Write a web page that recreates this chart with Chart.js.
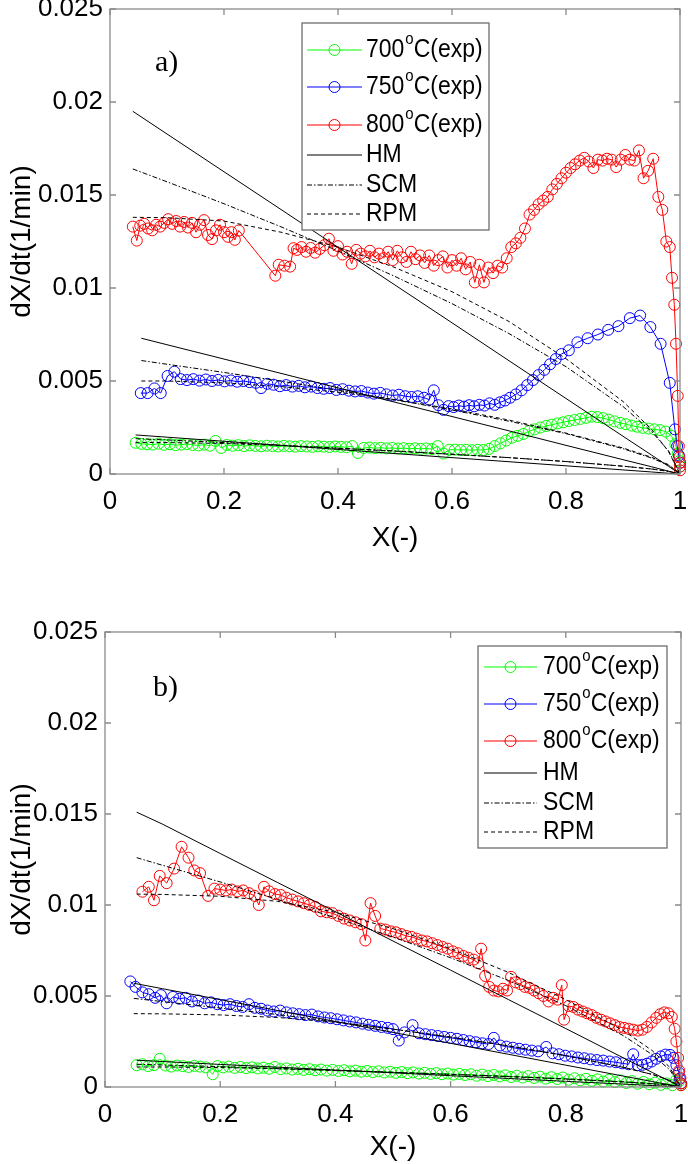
<!DOCTYPE html>
<html>
<head>
<meta charset="utf-8">
<script src="https://cdn.jsdelivr.net/npm/chart.js@4.4.0/dist/chart.umd.min.js"></script>
<style>
  body { margin: 0; background: #fff; }
  canvas { position: absolute; left: 0; }
  #chartA { top: 0; }
  #chartB { top: 560px; }
</style>
</head>
<body>
<canvas id="chartA" width="688" height="560"></canvas>
<canvas id="chartB" width="688" height="604"></canvas>
<script>
// ---- labels ----
var tempNames = ['700', '750', '800'];
var modelNames = ['HM', 'SCM', 'RPM'];
var xTicks = [0, 0.2, 0.4, 0.6, 0.8, 1];
var yTicks = [0, 0.005, 0.01, 0.015, 0.02, 0.025];

// ---- panel a) experimental [X, dX/dt] ----
var a700exp = [[0.045,0.00168],[0.055,0.00162],[0.065,0.00160],[0.075,0.00158],[0.085,0.00163],[0.095,0.00157],[0.105,0.00160],[0.115,0.00155],[0.125,0.00158],[0.135,0.00161],[0.145,0.00156],[0.155,0.00154],[0.165,0.00158],[0.175,0.00152],[0.185,0.00178],[0.195,0.00140],[0.205,0.00156],[0.215,0.00152],[0.225,0.00155],[0.235,0.00150],[0.245,0.00154],[0.255,0.00151],[0.265,0.00149],[0.275,0.00152],[0.285,0.00150],[0.295,0.00148],[0.305,0.00151],[0.315,0.00149],[0.325,0.00147],[0.335,0.00150],[0.345,0.00148],[0.355,0.00146],[0.365,0.00149],[0.375,0.00147],[0.385,0.00145],[0.395,0.00148],[0.405,0.00146],[0.415,0.00144],[0.425,0.00150],[0.435,0.00113],[0.445,0.00140],[0.455,0.00142],[0.465,0.00139],[0.475,0.00141],[0.485,0.00138],[0.495,0.00140],[0.505,0.00137],[0.515,0.00139],[0.525,0.00136],[0.535,0.00138],[0.545,0.00135],[0.555,0.00137],[0.565,0.00134],[0.575,0.00150],[0.585,0.00110],[0.595,0.00130],[0.605,0.00131],[0.615,0.00129],[0.625,0.00130],[0.635,0.00128],[0.645,0.00130],[0.655,0.00129],[0.665,0.00135],[0.675,0.00150],[0.685,0.00165],[0.695,0.00180],[0.705,0.00195],[0.715,0.00205],[0.725,0.00215],[0.735,0.00230],[0.745,0.00240],[0.755,0.00250],[0.765,0.00258],[0.775,0.00265],[0.785,0.00272],[0.795,0.00278],[0.805,0.00285],[0.815,0.00290],[0.825,0.00296],[0.835,0.00302],[0.845,0.00308],[0.855,0.00306],[0.865,0.00300],[0.875,0.00292],[0.885,0.00283],[0.895,0.00275],[0.905,0.00268],[0.915,0.00260],[0.925,0.00254],[0.935,0.00248],[0.945,0.00244],[0.955,0.00240],[0.965,0.00236],[0.975,0.00228],[0.985,0.00205],[0.992,0.00160],[0.996,0.00110],[0.999,0.00070],[1.0,0.00040]];

var a750exp = [[0.054,0.00435],[0.066,0.00435],[0.078,0.00460],[0.089,0.00435],[0.101,0.00527],[0.113,0.00550],[0.124,0.00510],[0.135,0.00505],[0.146,0.00510],[0.157,0.00502],[0.168,0.00508],[0.179,0.00500],[0.190,0.00506],[0.201,0.00498],[0.212,0.00503],[0.223,0.00496],[0.234,0.00500],[0.245,0.00494],[0.256,0.00490],[0.265,0.00462],[0.276,0.00485],[0.287,0.00480],[0.298,0.00472],[0.309,0.00478],[0.320,0.00470],[0.331,0.00474],[0.342,0.00466],[0.353,0.00470],[0.364,0.00462],[0.375,0.00458],[0.386,0.00462],[0.397,0.00452],[0.408,0.00456],[0.419,0.00448],[0.430,0.00444],[0.441,0.00446],[0.452,0.00438],[0.463,0.00432],[0.474,0.00436],[0.485,0.00428],[0.496,0.00422],[0.507,0.00426],[0.518,0.00418],[0.529,0.00414],[0.540,0.00418],[0.551,0.00410],[0.560,0.00400],[0.568,0.00450],[0.576,0.00370],[0.585,0.00345],[0.594,0.00365],[0.603,0.00360],[0.612,0.00368],[0.621,0.00362],[0.630,0.00370],[0.639,0.00364],[0.648,0.00372],[0.657,0.00368],[0.666,0.00380],[0.675,0.00372],[0.684,0.00385],[0.693,0.00395],[0.702,0.00410],[0.712,0.00428],[0.722,0.00450],[0.732,0.00478],[0.742,0.00505],[0.752,0.00532],[0.762,0.00560],[0.772,0.00590],[0.782,0.00618],[0.792,0.00645],[0.805,0.00665],[0.820,0.00708],[0.838,0.00730],[0.856,0.00750],[0.874,0.00775],[0.892,0.00795],[0.912,0.00838],[0.930,0.00852],[0.948,0.00790],[0.966,0.00700],[0.982,0.00490],[0.991,0.00240],[0.995,0.00150],[0.998,0.00100],[1.0,0.00060]];

var a800exp = [[0.040,0.01330],[0.047,0.01255],[0.053,0.01335],[0.060,0.01345],[0.067,0.01320],[0.074,0.01310],[0.081,0.01340],[0.088,0.01330],[0.095,0.01350],[0.102,0.01370],[0.109,0.01345],[0.116,0.01360],[0.123,0.01330],[0.130,0.01355],[0.137,0.01325],[0.144,0.01350],[0.151,0.01300],[0.158,0.01340],[0.165,0.01365],[0.172,0.01285],[0.179,0.01263],[0.186,0.01310],[0.193,0.01340],[0.200,0.01300],[0.207,0.01275],[0.213,0.01300],[0.219,0.01259],[0.226,0.01309],[0.290,0.01066],[0.296,0.01125],[0.306,0.01120],[0.316,0.01115],[0.322,0.01214],[0.328,0.01205],[0.336,0.01220],[0.344,0.01195],[0.352,0.01215],[0.360,0.01190],[0.368,0.01210],[0.376,0.01230],[0.384,0.01265],[0.392,0.01200],[0.400,0.01225],[0.408,0.01180],[0.416,0.01195],[0.424,0.01130],[0.432,0.01205],[0.440,0.01185],[0.448,0.01170],[0.456,0.01200],[0.464,0.01165],[0.472,0.01185],[0.480,0.01160],[0.488,0.01195],[0.496,0.01150],[0.504,0.01200],[0.512,0.01165],[0.520,0.01140],[0.528,0.01195],[0.536,0.01155],[0.544,0.01175],[0.552,0.01135],[0.560,0.01175],[0.568,0.01120],[0.576,0.01150],[0.584,0.01170],[0.592,0.01110],[0.600,0.01150],[0.608,0.01120],[0.616,0.01160],[0.624,0.01100],[0.632,0.01140],[0.640,0.01030],[0.648,0.01125],[0.656,0.01030],[0.664,0.01110],[0.672,0.01080],[0.680,0.01120],[0.688,0.01110],[0.696,0.01160],[0.704,0.01220],[0.712,0.01240],[0.720,0.01270],[0.728,0.01320],[0.736,0.01395],[0.744,0.01420],[0.752,0.01450],[0.760,0.01470],[0.768,0.01490],[0.776,0.01530],[0.784,0.01560],[0.792,0.01590],[0.800,0.01620],[0.808,0.01645],[0.816,0.01665],[0.824,0.01685],[0.832,0.01700],[0.840,0.01680],[0.848,0.01645],[0.856,0.01690],[0.864,0.01685],[0.872,0.01695],[0.880,0.01690],[0.888,0.01650],[0.896,0.01690],[0.904,0.01715],[0.912,0.01690],[0.920,0.01685],[0.928,0.01740],[0.936,0.01590],[0.944,0.01630],[0.953,0.01695],[0.962,0.01490],[0.969,0.01420],[0.976,0.01250],[0.982,0.01220],[0.986,0.01055],[0.990,0.00910],[0.993,0.00700],[0.996,0.00420],[0.998,0.00150],[0.999,0.00090],[1.0,0.00060],[1.0,0.00040],[1.0,0.00020]];

// ---- panel a) model curves ----
var aModX700 = [0.045, 0.1, 0.2, 0.3, 0.4, 0.5, 0.6, 0.7, 0.8, 0.9, 0.95, 0.98, 1];
var aHM700  = [0.0021, 0.00198, 0.00176, 0.00154, 0.00132, 0.0011, 0.00088, 0.00066, 0.00044, 0.00022, 0.00011, 0.00004, 0];
var aSCM700 = [0.0019, 0.00183, 0.00169, 0.00155, 0.00139, 0.00124, 0.00106, 0.00088, 0.00067, 0.00042, 0.00027, 0.00014, 0];
var aRPM700 = [0.0017, 0.00169, 0.00164, 0.00153, 0.00138, 0.00123, 0.00106, 0.00088, 0.00067, 0.00042, 0.00027, 0.00014, 0];

var aModX750 = [0.055, 0.1, 0.2, 0.3, 0.4, 0.5, 0.6, 0.7, 0.8, 0.9, 0.95, 0.98, 1];
var aHM750  = [0.0073, 0.00695, 0.00618, 0.00541, 0.00463, 0.00386, 0.00309, 0.00232, 0.00154, 0.00077, 0.00039, 0.00015, 0];
var aSCM750 = [0.0061, 0.0059, 0.00546, 0.00499, 0.0045, 0.00399, 0.00344, 0.00284, 0.00217, 0.00136, 0.00086, 0.00047, 0];
var aRPM750 = [0.0050, 0.0050, 0.0049, 0.0047, 0.0044, 0.0040, 0.0035, 0.0029, 0.0022, 0.0014, 0.0009, 0.0005, 0];

var aModX800 = [0.04, 0.1, 0.2, 0.3, 0.4, 0.5, 0.6, 0.7, 0.8, 0.9, 0.95, 0.98, 1];
var aHM800  = [0.0195, 0.01828, 0.01625, 0.01422, 0.01219, 0.01016, 0.00813, 0.00609, 0.00406, 0.00203, 0.00102, 0.00041, 0];
var aSCM800 = [0.0164, 0.01571, 0.01453, 0.01329, 0.01199, 0.01062, 0.00916, 0.00755, 0.00577, 0.00363, 0.00229, 0.00124, 0];
var aRPM800 = [0.0138, 0.01378, 0.0136, 0.0130, 0.0122, 0.0111, 0.0098, 0.0082, 0.0062, 0.0039, 0.0024, 0.0012, 0];

// ---- panel b) experimental [X, dX/dt] ----
var b700exp = [[0.055,0.00120],[0.065,0.00125],[0.075,0.00115],[0.085,0.00120],[0.095,0.00155],[0.105,0.00118],[0.115,0.00112],[0.125,0.00118],[0.135,0.00115],[0.145,0.00110],[0.155,0.00116],[0.165,0.00112],[0.175,0.00108],[0.187,0.00070],[0.195,0.00115],[0.205,0.00108],[0.215,0.00112],[0.225,0.00105],[0.235,0.00110],[0.245,0.00104],[0.255,0.00108],[0.265,0.00102],[0.275,0.00106],[0.285,0.00100],[0.295,0.00110],[0.305,0.00098],[0.315,0.00102],[0.325,0.00096],[0.335,0.00100],[0.345,0.00094],[0.355,0.00098],[0.365,0.00092],[0.375,0.00096],[0.385,0.00090],[0.395,0.00094],[0.405,0.00088],[0.415,0.00092],[0.425,0.00086],[0.435,0.00090],[0.445,0.00084],[0.455,0.00088],[0.465,0.00082],[0.475,0.00086],[0.485,0.00080],[0.495,0.00084],[0.505,0.00078],[0.515,0.00082],[0.525,0.00076],[0.535,0.00080],[0.545,0.00074],[0.555,0.00078],[0.565,0.00072],[0.575,0.00076],[0.585,0.00070],[0.595,0.00074],[0.605,0.00068],[0.615,0.00072],[0.625,0.00066],[0.635,0.00070],[0.645,0.00062],[0.655,0.00068],[0.665,0.00060],[0.675,0.00066],[0.685,0.00058],[0.695,0.00064],[0.705,0.00055],[0.715,0.00062],[0.725,0.00052],[0.735,0.00060],[0.745,0.00050],[0.755,0.00057],[0.765,0.00046],[0.775,0.00054],[0.785,0.00044],[0.795,0.00052],[0.805,0.00040],[0.815,0.00048],[0.825,0.00037],[0.835,0.00045],[0.845,0.00034],[0.855,0.00042],[0.865,0.00030],[0.875,0.00040],[0.885,0.00027],[0.895,0.00036],[0.905,0.00022],[0.915,0.00032],[0.925,0.00018],[0.935,0.00028],[0.945,0.00015],[0.955,0.00024],[0.965,0.00012],[0.975,0.00020],[0.985,0.00010],[0.992,0.00040],[0.996,0.00030],[1.0,0.00010]];

var b750exp = [[0.044,0.00580],[0.053,0.00550],[0.065,0.00520],[0.076,0.00510],[0.087,0.00490],[0.097,0.00505],[0.107,0.00460],[0.118,0.00495],[0.129,0.00485],[0.140,0.00490],[0.151,0.00470],[0.162,0.00475],[0.173,0.00460],[0.184,0.00465],[0.195,0.00455],[0.206,0.00450],[0.217,0.00455],[0.228,0.00445],[0.239,0.00440],[0.250,0.00455],[0.260,0.00435],[0.271,0.00430],[0.282,0.00420],[0.293,0.00415],[0.304,0.00420],[0.315,0.00410],[0.326,0.00405],[0.337,0.00400],[0.348,0.00395],[0.359,0.00398],[0.370,0.00388],[0.381,0.00382],[0.392,0.00378],[0.403,0.00372],[0.414,0.00366],[0.425,0.00360],[0.436,0.00355],[0.447,0.00348],[0.458,0.00342],[0.469,0.00336],[0.480,0.00330],[0.491,0.00325],[0.500,0.00318],[0.510,0.00255],[0.520,0.00300],[0.534,0.00340],[0.545,0.00295],[0.556,0.00290],[0.567,0.00285],[0.578,0.00280],[0.589,0.00275],[0.600,0.00270],[0.611,0.00265],[0.622,0.00258],[0.633,0.00252],[0.644,0.00246],[0.655,0.00240],[0.666,0.00236],[0.675,0.00270],[0.686,0.00228],[0.697,0.00222],[0.708,0.00216],[0.719,0.00210],[0.730,0.00205],[0.741,0.00200],[0.752,0.00196],[0.766,0.00220],[0.777,0.00185],[0.788,0.00180],[0.799,0.00172],[0.810,0.00168],[0.821,0.00162],[0.832,0.00158],[0.843,0.00152],[0.854,0.00148],[0.865,0.00145],[0.876,0.00140],[0.887,0.00136],[0.898,0.00130],[0.909,0.00125],[0.917,0.00180],[0.925,0.00120],[0.933,0.00122],[0.941,0.00128],[0.949,0.00140],[0.957,0.00155],[0.965,0.00168],[0.973,0.00178],[0.981,0.00176],[0.987,0.00160],[0.992,0.00120],[0.996,0.00080],[0.998,0.00045],[1.0,0.00020]];

var b800exp = [[0.065,0.01073],[0.076,0.01100],[0.085,0.01026],[0.095,0.01160],[0.107,0.01120],[0.120,0.01200],[0.133,0.01320],[0.145,0.01260],[0.155,0.01190],[0.165,0.01175],[0.179,0.01050],[0.190,0.01090],[0.200,0.01085],[0.210,0.01080],[0.220,0.01085],[0.230,0.01075],[0.240,0.01080],[0.250,0.01065],[0.260,0.01050],[0.267,0.01000],[0.276,0.01100],[0.285,0.01075],[0.295,0.01060],[0.305,0.01055],[0.315,0.01040],[0.325,0.01030],[0.335,0.01020],[0.345,0.01010],[0.355,0.01000],[0.365,0.00990],[0.375,0.00965],[0.385,0.00960],[0.395,0.00955],[0.405,0.00940],[0.415,0.00925],[0.425,0.00915],[0.435,0.00905],[0.445,0.00895],[0.452,0.00805],[0.461,0.01010],[0.469,0.00940],[0.478,0.00870],[0.487,0.00865],[0.496,0.00855],[0.505,0.00850],[0.514,0.00840],[0.523,0.00830],[0.532,0.00825],[0.541,0.00815],[0.550,0.00805],[0.559,0.00800],[0.568,0.00790],[0.577,0.00780],[0.586,0.00770],[0.595,0.00760],[0.604,0.00745],[0.613,0.00735],[0.622,0.00720],[0.631,0.00710],[0.640,0.00700],[0.648,0.00680],[0.653,0.00760],[0.660,0.00610],[0.667,0.00550],[0.675,0.00530],[0.683,0.00525],[0.691,0.00540],[0.698,0.00530],[0.705,0.00605],[0.713,0.00575],[0.721,0.00565],[0.729,0.00550],[0.737,0.00545],[0.745,0.00530],[0.753,0.00515],[0.761,0.00500],[0.770,0.00470],[0.778,0.00490],[0.786,0.00480],[0.793,0.00560],[0.797,0.00370],[0.805,0.00445],[0.813,0.00440],[0.821,0.00425],[0.829,0.00415],[0.837,0.00405],[0.845,0.00395],[0.853,0.00380],[0.861,0.00370],[0.869,0.00360],[0.877,0.00350],[0.885,0.00340],[0.893,0.00330],[0.901,0.00325],[0.909,0.00320],[0.917,0.00315],[0.925,0.00310],[0.933,0.00315],[0.941,0.00330],[0.949,0.00355],[0.957,0.00380],[0.964,0.00400],[0.971,0.00410],[0.978,0.00405],[0.984,0.00385],[0.989,0.00320],[0.992,0.00250],[0.995,0.00160],[0.997,0.00090],[0.999,0.00050],[1.0,0.00020],[1.0,0.00010]];

// ---- panel b) model curves ----
var bModX700 = [0.055, 0.1, 0.2, 0.3, 0.4, 0.5, 0.6, 0.7, 0.8, 0.9, 0.95, 0.98, 1];
var bHM700  = [0.00147, 0.0014, 0.00124, 0.00109, 0.00093, 0.00078, 0.00062, 0.00047, 0.00031, 0.00016, 0.00008, 0.00003, 0];
var bSCM700 = [0.00125, 0.00121, 0.00112, 0.00102, 0.00092, 0.00081, 0.0007, 0.00058, 0.00044, 0.00028, 0.00018, 0.0001, 0];
var bRPM700 = [0.0011, 0.0011, 0.00107, 0.001, 0.0009, 0.0008, 0.00069, 0.00057, 0.00044, 0.00028, 0.00018, 0.0001, 0];

var bModX750 = [0.05, 0.1, 0.2, 0.3, 0.4, 0.5, 0.6, 0.7, 0.8, 0.9, 0.95, 0.98, 1];
var bHM750  = [0.0057, 0.0054, 0.0048, 0.0042, 0.0036, 0.003, 0.0024, 0.0018, 0.0012, 0.0006, 0.0003, 0.00012, 0];
var bSCM750 = [0.00487, 0.00469, 0.00434, 0.00398, 0.00358, 0.00318, 0.00274, 0.00226, 0.00172, 0.00108, 0.00069, 0.00037, 0];
var bRPM750 = [0.00403, 0.00402, 0.00396, 0.00382, 0.00356, 0.00318, 0.00274, 0.00226, 0.00172, 0.00108, 0.00069, 0.00037, 0];

var bModX800 = [0.055, 0.1, 0.2, 0.3, 0.4, 0.5, 0.6, 0.7, 0.8, 0.9, 0.95, 0.98, 1];
var bHM800  = [0.0151, 0.01444, 0.01283, 0.01123, 0.00963, 0.00802, 0.00642, 0.00481, 0.00321, 0.0016, 0.0008, 0.00032, 0];
var bSCM800 = [0.0126, 0.01218, 0.01127, 0.0103, 0.0093, 0.00824, 0.0071, 0.00586, 0.00447, 0.00282, 0.00178, 0.00096, 0];
var bRPM800 = [0.0106, 0.01058, 0.01048, 0.0102, 0.0096, 0.0087, 0.0076, 0.0063, 0.0048, 0.0031, 0.002, 0.0011, 0];

var expColors = ['#00ff00', '#0000ff', '#ff0000'];
var modelDash = [[], [5, 2, 1.5, 2], [4, 3]];
var sansFont = '"Liberation Sans", Arial, sans-serif';

function expSet(pairs, color, order) {
    return {
        data: pairs.map(function (p) { return { x: p[0], y: p[1] }; }),
        showLine: true,
        borderColor: color,
        borderWidth: 1,
        pointRadius: 5.5,
        pointBorderWidth: 1,
        pointBorderColor: color,
        pointBackgroundColor: 'rgba(0,0,0,0)',
        tension: 0,
        order: order,
        clip: false
    };
}

function modelSet(xs, ys, dash) {
    return {
        data: xs.map(function (x, i) { return { x: x, y: ys[i] }; }),
        showLine: true,
        borderColor: '#000',
        borderWidth: 1,
        borderDash: dash,
        pointRadius: 0,
        tension: 0,
        order: 0
    };
}

// axes box, inward ticks, panel tag and legend, MATLAB style
var matlabFrame = {
    id: 'matlabFrame',
    afterDatasetsDraw: function (chart, args, opts) {
        var ctx = chart.ctx, a = chart.chartArea;
        var xs = chart.scales.x, ys = chart.scales.y;
        ctx.save();
        ctx.setLineDash([]);
        ctx.strokeStyle = '#8a8a8a';
        ctx.lineWidth = 1.3;
        ctx.strokeRect(a.left, a.top, a.right - a.left, a.bottom - a.top);
        ctx.beginPath();
        xTicks.forEach(function (t) {
            var px = xs.getPixelForValue(t);
            ctx.moveTo(px, a.bottom); ctx.lineTo(px, a.bottom - 6);
            ctx.moveTo(px, a.top); ctx.lineTo(px, a.top + 6);
        });
        yTicks.forEach(function (t) {
            var py = ys.getPixelForValue(t);
            ctx.moveTo(a.left, py); ctx.lineTo(a.left + 6, py);
            ctx.moveTo(a.right, py); ctx.lineTo(a.right - 6, py);
        });
        ctx.stroke();

        // panel tag
        ctx.fillStyle = '#000';
        ctx.textBaseline = 'middle';
        ctx.textAlign = 'left';
        ctx.font = '30px "Liberation Serif", "Times New Roman", serif';
        ctx.fillText(opts.tag, opts.tagX, opts.tagY);

        // legend
        var L = opts.legend;
        ctx.fillStyle = '#fff';
        ctx.fillRect(L.x, L.y, L.w, L.h);
        ctx.strokeStyle = '#6e6e6e';
        ctx.lineWidth = 1.3;
        ctx.strokeRect(L.x, L.y, L.w, L.h);
        ctx.lineWidth = 1;
        for (var i = 0; i < 6; i++) {
            var y = L.rows[i];
            var isExp = i < 3;
            ctx.beginPath();
            ctx.strokeStyle = isExp ? expColors[i] : '#000';
            ctx.setLineDash(isExp ? [] : modelDash[i - 3]);
            ctx.moveTo(L.lineX0, y); ctx.lineTo(L.lineX1, y);
            ctx.stroke();
            ctx.setLineDash([]);
            if (isExp) {
                ctx.beginPath();
                ctx.arc((L.lineX0 + L.lineX1) / 2, y, 5.5, 0, Math.PI * 2);
                ctx.stroke();
            }
            // slightly tall lettering, like the exported figure
            ctx.save();
            ctx.translate(L.textX, y);
            ctx.scale(1, 1.1);
            ctx.fillStyle = '#000';
            ctx.textBaseline = 'middle';
            ctx.font = '23px ' + sansFont;
            var tx = 0;
            if (isExp) {
                ctx.fillText(tempNames[i], tx, 0);
                tx += ctx.measureText(tempNames[i]).width;
                ctx.font = '15px ' + sansFont;
                ctx.fillText('o', tx + 1, -10);
                tx += ctx.measureText('o').width + 1;
                ctx.font = '23px ' + sansFont;
                ctx.fillText('C(exp)', tx, 0);
            } else {
                ctx.fillText(modelNames[i - 3], tx, 0);
            }
            ctx.restore();
        }
        ctx.restore();
    }
};

function makeChart(id, sets, frame, geo) {
    var ctx = document.getElementById(id).getContext('2d');
    return new Chart(ctx, {
        type: 'scatter',
        data: { datasets: sets },
        options: {
            responsive: false,
            animation: false,
            events: [],
            layout: { padding: { top: geo.top, right: geo.right, left: 0, bottom: 0 } },
            plugins: {
                legend: { display: false },
                tooltip: { enabled: false },
                matlabFrame: frame
            },
            scales: {
                x: {
                    type: 'linear', min: 0, max: 1,
                    grid: { display: false, drawTicks: false },
                    border: { display: false },
                    afterBuildTicks: function (s) { s.ticks = xTicks.map(function (v) { return { value: v }; }); },
                    ticks: {
                        padding: 12, color: '#000', maxRotation: 0, autoSkip: false,
                        font: { family: sansFont, size: 26 },
                        callback: function (v) { return String(+v.toFixed(1)); }
                    },
                    title: { display: true, text: 'X(-)', color: '#000', font: { family: sansFont, size: 28 }, padding: { top: 0, bottom: geo.xTitlePad } },
                    afterFit: function (s) { s.height = geo.xh; s.paddingLeft = 0; s.paddingRight = 0; }
                },
                y: {
                    type: 'linear', min: 0, max: 0.025,
                    grid: { display: false, drawTicks: false },
                    border: { display: false },
                    afterBuildTicks: function (s) { s.ticks = yTicks.map(function (v) { return { value: v }; }); },
                    ticks: {
                        padding: 7, color: '#000', autoSkip: false,
                        font: { family: sansFont, size: 26 },
                        callback: function (v) { return String(+v.toFixed(3)); }
                    },
                    title: { display: true, text: 'dX/dt(1/min)', color: '#000', font: { family: sansFont, size: 28 }, padding: { top: 5, bottom: 0 } },
                    afterFit: function (s) { s.width = geo.yw; s.paddingTop = 0; s.paddingBottom = 0; }
                }
            }
        },
        plugins: [matlabFrame]
    });
}

makeChart('chartA', [
    modelSet(aModX700, aHM700, modelDash[0]), modelSet(aModX700, aSCM700, modelDash[1]), modelSet(aModX700, aRPM700, modelDash[2]),
    modelSet(aModX750, aHM750, modelDash[0]), modelSet(aModX750, aSCM750, modelDash[1]), modelSet(aModX750, aRPM750, modelDash[2]),
    modelSet(aModX800, aHM800, modelDash[0]), modelSet(aModX800, aSCM800, modelDash[1]), modelSet(aModX800, aRPM800, modelDash[2]),
    expSet(a800exp, expColors[2], 1), expSet(a750exp, expColors[1], 2), expSet(a700exp, expColors[0], 3)
], {
    tag: 'a)', tagX: 155, tagY: 63,
    legend: { x: 302, y: 23, w: 187, h: 207, rows: [50, 87, 125, 155, 185, 214], lineX0: 307, lineX1: 362, textX: 366 }
}, { top: 9, right: 8, xh: 86, yw: 110, xTitlePad: 5 });

makeChart('chartB', [
    modelSet(bModX700, bHM700, modelDash[0]), modelSet(bModX700, bSCM700, modelDash[1]), modelSet(bModX700, bRPM700, modelDash[2]),
    modelSet(bModX750, bHM750, modelDash[0]), modelSet(bModX750, bSCM750, modelDash[1]), modelSet(bModX750, bRPM750, modelDash[2]),
    modelSet(bModX800, bHM800, modelDash[0]), modelSet(bModX800, bSCM800, modelDash[1]), modelSet(bModX800, bRPM800, modelDash[2]),
    expSet(b800exp, expColors[2], 1), expSet(b750exp, expColors[1], 2), expSet(b700exp, expColors[0], 3)
], {
    tag: 'b)', tagX: 153, tagY: 128,
    legend: { x: 478, y: 86, w: 189, h: 202, rows: [107, 144, 181, 213, 243, 272], lineX0: 484, lineX1: 537, textX: 543 }
}, { top: 72, right: 7, xh: 77, yw: 105, xTitlePad: 0 });
</script>
</body>
</html>
